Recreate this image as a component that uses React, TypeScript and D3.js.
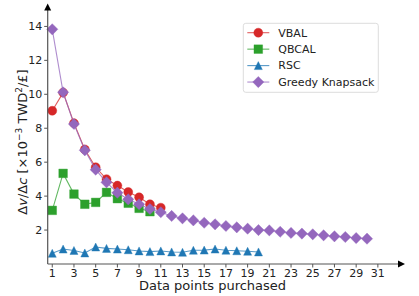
import * as d3 from "d3";

const W = 419;
const H = 296;

const xs = d3.range(1, 31);
const vbal = [9.03, 10.1, 8.3, 6.75, 5.7, 5.0, 4.62, 4.24, 3.93, 3.52, 3.32];
const qbcal = [3.16, 5.34, 4.12, 3.52, 3.63, 4.22, 3.85, 3.58, 3.28, 3.08];
const rsc = [0.63, 0.88, 0.8, 0.65, 1.0, 0.92, 0.88, 0.84, 0.77, 0.73, 0.77, 0.71, 0.69, 0.81, 0.82, 0.88, 0.81, 0.78, 0.75, 0.71];
const greedy = [13.83, 10.12, 8.25, 6.7, 5.56, 4.81, 4.2, 3.81, 3.52, 3.24, 3.05, 2.83, 2.69, 2.57, 2.43, 2.34, 2.24, 2.16, 2.08, 2.0, 1.98, 1.9, 1.83, 1.79, 1.75, 1.69, 1.63, 1.59, 1.53, 1.49];

const xTicks = d3.range(1, 32, 2);
const yTicks = [2, 4, 6, 8, 10, 12, 14];

// matplotlib-like marker paths (r = half size)
const marker = (kind: string, r: number) => {
  if (kind === "o") return d3.symbol(d3.symbolCircle, Math.PI * r * r)() || "";
  if (kind === "s") return `M${-r},${-r}H${r}V${r}H${-r}Z`;
  if (kind === "^") return `M0,${-r}L${r},${r}L${-r},${r}Z`;
  return `M0,${-r}L${r},0L0,${r}L${-r},0Z`;
};

const series = [
  { name: "VBAL", values: vbal, color: "#d62728", kind: "o", r: 4.5 },
  { name: "QBCAL", values: qbcal, color: "#2ca02c", kind: "s", r: 4.3 },
  { name: "RSC", values: rsc, color: "#1f77b4", kind: "^", r: 4 },
  { name: "Greedy Knapsack", values: greedy, color: "#9467bd", kind: "D", r: 5.6 },
];

const font = "DejaVu Sans, sans-serif";

export default function App() {
  const x = d3.scaleLinear().domain([0.58, 33.5]).range([47.7, 405]);
  const y = d3.scaleLinear().domain([0, 15.35]).range([264, 3.5]);
  const x0 = x.range()[0];
  const y0 = y.range()[0];

  const line = d3
    .line<number>()
    .x((_, i) => x(xs[i]))
    .y((d) => y(d));

  return (
    <svg width={W} height={H} style={{ position: "absolute", left: 0, top: 0 }} fontFamily={font}>
      <rect width={W} height={H} fill="#fff" />
      {series.map((s) => (
        <g key={s.name}>
          <path d={line(s.values) || ""} fill="none" stroke={s.color} strokeWidth={1.1} strokeOpacity={0.75} />
          {s.values.map((v, i) => (
            <path
              key={i}
              d={marker(s.kind, s.r)}
              transform={`translate(${x(xs[i])},${y(v)})`}
              fill={s.color}
              stroke={s.color}
              strokeOpacity={0.4}
              strokeWidth={1}
            />
          ))}
        </g>
      ))}

      {/* axes */}
      <line x1={x0} x2={x.range()[1] - 6} y1={y0} y2={y0} stroke="#555" strokeWidth={1.2} />
      <path d={`M${x.range()[1]},${y0} l-7,-3.5 v7 z`} fill="#000" />
      <line x1={x0} x2={x0} y1={y0} y2={y.range()[1] + 6} stroke="#555" strokeWidth={1.2} />
      <path d={`M${x0},${y.range()[1]} l-3.5,7 h7 z`} fill="#000" />

      {xTicks.map((t) => (
        <g key={t} transform={`translate(${x(t)},${y0})`}>
          <line y2={3.5} stroke="#555" />
          <text y={12.5} textAnchor="middle" fontSize={11} fill="#222">
            {t}
          </text>
        </g>
      ))}
      {yTicks.map((t) => (
        <g key={t} transform={`translate(${x0},${y(t)})`}>
          <line x2={-3.5} stroke="#555" />
          <text x={-5.5} dy="0.35em" textAnchor="end" fontSize={11} fill="#222">
            {t}
          </text>
        </g>
      ))}

      <text x={212.5} y={290} textAnchor="middle" fontSize={13} fill="#222">
        Data points purchased
      </text>
      <text transform="translate(27,142) rotate(-90)" textAnchor="middle" fontSize={13} fill="#222">
        Δ<tspan fontStyle="italic">v</tspan>/Δ<tspan fontStyle="italic">c</tspan> [×10
        <tspan dy={-5} fontSize={9}>−3</tspan>
        <tspan dy={5}> TWD</tspan>
        <tspan dy={-5} fontSize={9}>2</tspan>
        <tspan dy={5}>/£]</tspan>
      </text>

      {/* legend */}
      <rect x={243.3} y={23.3} width={135} height={69} rx={2.5} fill="#fff" fillOpacity={0.8} stroke="#ddd" />
      {series.map((s, i) => {
        const ly = 32.7 + i * 16.45;
        return (
          <g key={s.name}>
            <line x1={247.3} x2={269.3} y1={ly} y2={ly} stroke={s.color} strokeWidth={1.1} strokeOpacity={0.75} />
            <path
              d={marker(s.kind, s.r)}
              transform={`translate(258.3,${ly})`}
              fill={s.color}
              stroke={s.color}
              strokeOpacity={0.4}
            />
            <text x={278.3} y={ly} dy="0.35em" fontSize={11} fill="#222">
              {s.name}
            </text>
          </g>
        );
      })}
    </svg>
  );
}
